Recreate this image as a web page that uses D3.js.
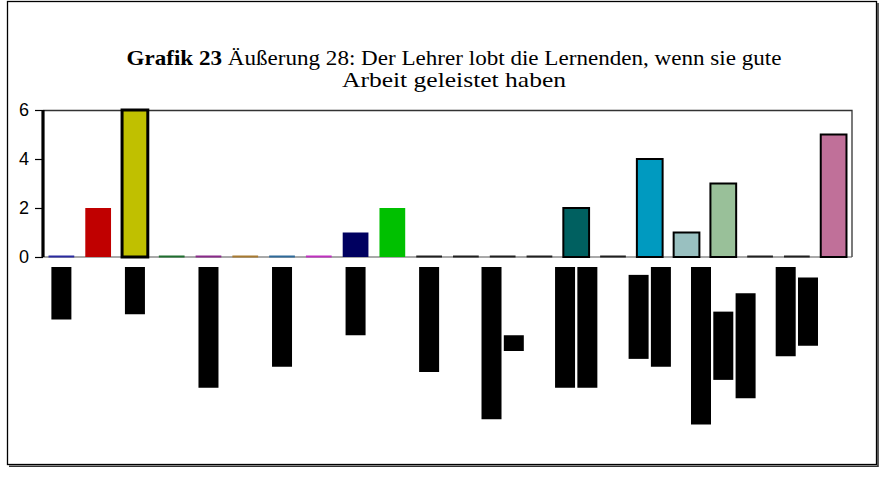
<!DOCTYPE html>
<html>
<head>
<meta charset="utf-8">
<script src="https://cdn.jsdelivr.net/npm/d3@7"></script>
<style>
  html, body { margin: 0; padding: 0; background: #fff; }
  svg { display: block; }
</style>
</head>
<body>
<svg id="chart" width="881" height="495"></svg>
<script>
// Answer counts for statement 28, one bar per respondent group
const categories = d3.range(1, 23).map(i => "G" + i);
const counts = [0, 2, 6, 0, 0, 0, 0, 0, 1, 2, 0, 0, 0, 0, 2, 0, 4, 1, 3, 0, 0, 5];
const barColors = [
  "#2a2aa0", "#c00000", "#c0c000", "#1f6f2f", "#8a2a8a", "#a87a30", "#2f6a9a", "#c030c0",
  "#000060", "#00c000", "#202020", "#202020", "#202020", "#202020", "#006060", "#202020",
  "#009ac0", "#99c0c0", "#99c099", "#202020", "#202020", "#c07099"
];
const outlined = [false, false, true, false, false, false, false, false, false, false, false,
  false, false, false, true, false, true, true, true, false, false, true];
const yTicks = [0, 2, 4, 6];

// Category labels are masked; each shown label is listed as its line lengths (in characters)
const labelledCategories = [0, 2, 4, 6, 8, 10, 12, 14, 16, 18, 20];
const labelLines = [
  [10], [9], [23], [19], [13], [20],
  [29, 3], [23, 23], [16, 19], [30, 13, 20], [17, 13]
];

const titleBold = "Grafik 23";
const titleRest = "Äußerung  28: Der Lehrer lobt die Lernenden, wenn sie gute";
const titleLine2 = "Arbeit geleistet haben";

const svg = d3.select("#chart");
const W = 881, H = 495;
const margin = { left: 43, right: 29, top: 110, bottom: 238 };
const plotW = W - margin.left - margin.right;
const plotH = H - margin.top - margin.bottom;

// outer frame with its shadow
svg.append("rect")
  .attr("x", 7.5).attr("y", 1.5)
  .attr("width", 869).attr("height", 463)
  .attr("fill", "none").attr("stroke", "#000").attr("stroke-width", 1.3);
svg.append("path")
  .attr("d", "M9,466.2H878V3")
  .attr("fill", "none").attr("stroke", "#333").attr("stroke-width", 1.6);

// title
const title = svg.append("text")
  .attr("text-anchor", "middle")
  .attr("font-family", "'Liberation Serif', 'Times New Roman', serif")
  .attr("font-size", 21)
  .attr("fill", "#000");
title.append("tspan")
  .attr("x", 454).attr("y", 65)
  .attr("textLength", 655).attr("lengthAdjust", "spacingAndGlyphs")
  .call(t => {
    t.append("tspan").attr("font-weight", "bold").text(titleBold);
    t.append("tspan").text("  " + titleRest);
  });
title.append("tspan")
  .attr("x", 454).attr("y", 87)
  .attr("textLength", 224).attr("lengthAdjust", "spacingAndGlyphs")
  .text(titleLine2);

const g = svg.append("g").attr("transform", `translate(${margin.left},${margin.top})`);

const x = d3.scaleBand().domain(categories).range([0, plotW]).paddingInner(0.3).paddingOuter(0.15);
const y = d3.scaleLinear().domain([0, 6]).range([plotH, 0]);

// plot frame (top and right)
g.append("path")
  .attr("d", `M0,0.5H${plotW}V${plotH}`)
  .attr("fill", "none").attr("stroke", "#333").attr("stroke-width", 1.3);

// x baseline
g.append("line")
  .attr("x1", 0).attr("x2", plotW).attr("y1", y(0)).attr("y2", y(0))
  .attr("stroke", "#555").attr("stroke-width", 1.2);

// bars
const data = categories.map((c, i) => ({ c, v: counts[i], color: barColors[i], outlined: outlined[i] }));
g.selectAll("rect.bar")
  .data(data.filter(d => d.v > 0))
  .join("rect")
  .attr("class", "bar")
  .attr("x", d => x(d.c))
  .attr("width", x.bandwidth())
  .attr("y", d => y(d.v))
  .attr("height", d => y(0) - y(d.v))
  .attr("fill", d => d.color)
  .attr("stroke", d => d.outlined ? "#000" : "none")
  .attr("stroke-width", d => d.c === "G3" ? 3 : 2);

// zero-height bars show as a coloured line on the baseline
g.selectAll("line.zero")
  .data(data.filter(d => d.v === 0))
  .join("line")
  .attr("class", "zero")
  .attr("x1", d => x(d.c)).attr("x2", d => x(d.c) + x.bandwidth())
  .attr("y1", y(0) - 0.5).attr("y2", y(0) - 0.5)
  .attr("stroke", d => d.color).attr("stroke-width", 2);

// y axis
const yAxis = g.append("g").call(d3.axisLeft(y).tickValues(yTicks).tickSize(8).tickFormat(d3.format("d")));
yAxis.select(".domain").remove();
yAxis.selectAll(".tick line").attr("stroke", "#000").attr("stroke-width", 1.2);
yAxis.selectAll(".tick text")
  .attr("font-family", "'Liberation Sans', Arial, sans-serif")
  .attr("font-size", 18).attr("fill", "#000").attr("x", -14);
g.append("line")
  .attr("x1", 0).attr("x2", 0).attr("y1", 0).attr("y2", plotH)
  .attr("stroke", "#000").attr("stroke-width", 3.2);

// masked category labels, one block per text line, hanging below the axis
const charW = 5.25;
const lineW = 20, lineGap = 22.3;
const labelTop = plotH + 10;
labelledCategories.forEach((ci, k) => {
  const lines = labelLines[k];
  const longest = d3.max(lines) * charW;
  const cx = x(categories[ci]) + x.bandwidth() / 2;
  const n = lines.length;
  lines.forEach((len, j) => {
    const h = len * charW;
    const lx = cx + (j - (n - 1) / 2) * lineGap - lineW / 2;
    g.append("rect")
      .attr("x", lx).attr("width", lineW)
      .attr("y", labelTop + (longest - h) / 2)
      .attr("height", h)
      .attr("fill", "#000");
  });
});
</script>
</body>
</html>
